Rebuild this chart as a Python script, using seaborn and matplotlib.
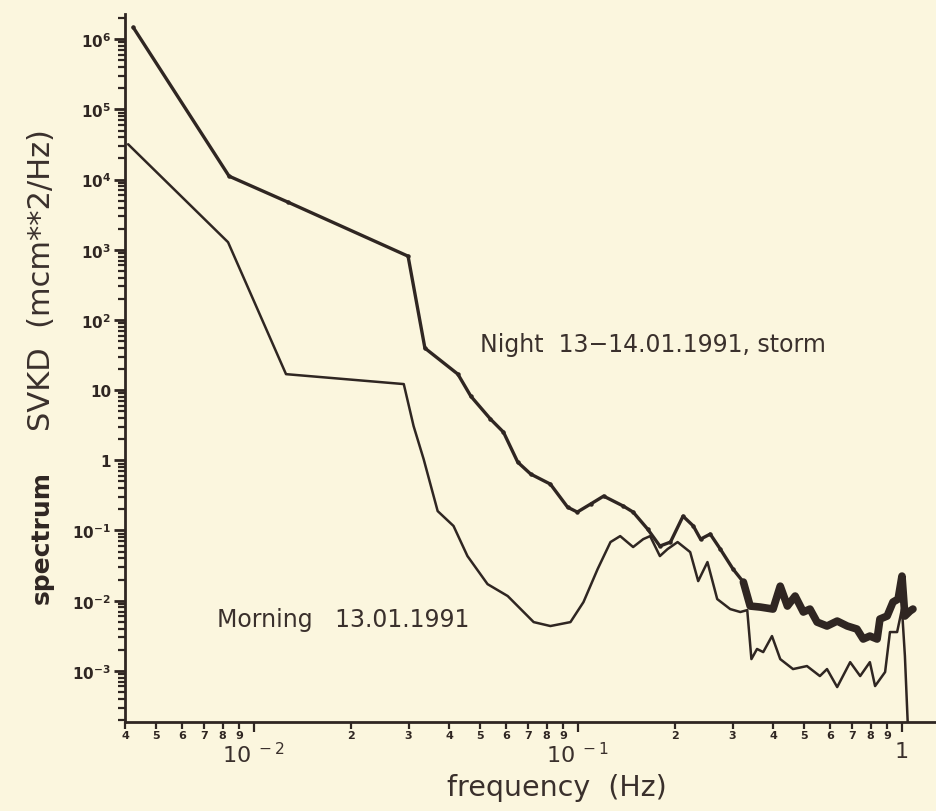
import numpy as np
import pandas as pd
import matplotlib
matplotlib.use("Agg")
import matplotlib.pyplot as plt
import seaborn as sns
from matplotlib.ticker import FixedLocator, FuncFormatter, NullFormatter

# Wave spectra, night storm record (Hz, mcm**2/Hz)
night_freq = [0.00424, 0.00838, 0.01274, 0.0299, 0.0337, 0.0426, 0.0467, 0.0537,
              0.0589, 0.0652, 0.0715, 0.0822, 0.0929, 0.0995, 0.1094, 0.120,
              0.138, 0.148, 0.164, 0.179, 0.193, 0.211, 0.227, 0.239, 0.256,
              0.275, 0.301, 0.324, 0.340, 0.365, 0.400, 0.421, 0.443, 0.468,
              0.496, 0.520, 0.547, 0.587, 0.631, 0.678, 0.726, 0.759, 0.796,
              0.838, 0.855, 0.900, 0.938, 0.973, 1.000, 1.021, 1.059, 1.081]
night_svkd = [1.48e6, 1.12e4, 4.77e3, 811, 39.7, 16.9, 8.2, 3.87,
              2.52, 0.94, 0.636, 0.458, 0.215, 0.183, 0.238, 0.309,
              0.223, 0.183, 0.105, 0.060, 0.0684, 0.160, 0.116, 0.0753, 0.0889,
              0.0543, 0.0282, 0.0184, 0.00838, 0.00811, 0.00759, 0.0161, 0.00838, 0.01164,
              0.00689, 0.00759, 0.00495, 0.00435, 0.00512, 0.00435, 0.00394, 0.00284, 0.00313,
              0.00284, 0.00547, 0.00604, 0.00955, 0.01054, 0.0224, 0.00604, 0.00711, 0.00759]

# Morning record
morning_freq = [0.00409, 0.00832, 0.01256, 0.0290, 0.0311, 0.0334, 0.0369, 0.0413,
                0.0456, 0.0526, 0.0607, 0.0730, 0.0822, 0.0948, 0.104, 0.115,
                0.126, 0.135, 0.148, 0.159, 0.167, 0.179, 0.189, 0.203, 0.222,
                0.235, 0.251, 0.269, 0.295, 0.317, 0.333, 0.343, 0.357, 0.373,
                0.397, 0.421, 0.461, 0.509, 0.558, 0.587, 0.631, 0.692, 0.743,
                0.796, 0.826, 0.887, 0.918, 0.966, 1.000, 1.021, 1.042]
morning_svkd = [3.19e4, 1282, 16.9, 12.2, 3.07, 1.04, 0.189, 0.116,
                0.0432, 0.0172, 0.01164, 0.00495, 0.00435, 0.00495, 0.00955, 0.0282,
                0.0684, 0.0832, 0.0581, 0.0753, 0.0832, 0.0432, 0.0543, 0.0684, 0.0492,
                0.0190, 0.0355, 0.01054, 0.00759, 0.00689, 0.00734, 0.00147, 0.00205, 0.00185,
                0.00313, 0.00147, 0.00106, 0.00117, 0.000843, 0.00106, 0.000587, 0.00133, 0.000843,
                0.00133, 0.000607, 0.000962, 0.00357, 0.00357, 0.00759, 0.00163, 0.000175]

night_label = "Night  13\u221214.01.1991, storm"
morning_label = "Morning   13.01.1991"
y_tick_values = [1e-3, 1e-2, 1e-1, 1, 10, 1e2, 1e3, 1e4, 1e5, 1e6]
y_tick_labels = [r"10$^{-3}$", r"10$^{-2}$", r"10$^{-1}$", "1", "10",
                 r"10$^{2}$", r"10$^{3}$", r"10$^{4}$", r"10$^{5}$", r"10$^{6}$"]
x_tick_values = [1e-2, 1e-1, 1]
x_tick_labels = [r"10$^{\ -2}$", r"10$^{\ -1}$", "1"]

paper = "#fbf6de"
ink = "#2f2622"
text_ink = "#3a302c"

sns.set_theme(style="ticks")
plt.rcParams["font.family"] = ["DejaVu Sans"]
plt.rcParams["mathtext.default"] = "regular"

W, H = 936, 812
fig = plt.figure(figsize=(W / 100, H / 100), dpi=100, facecolor=paper)
ax = fig.add_axes([125 / W, 89 / H, (W - 125) / W, (723 - 15) / H])
ax.set_facecolor(paper)
ax.set_xscale("log")
ax.set_yscale("log")

night = pd.DataFrame({"f": night_freq, "s": night_svkd})
morning = pd.DataFrame({"f": morning_freq, "s": morning_svkd})

sns.lineplot(data=morning, x="f", y="s", ax=ax, color=ink, lw=1.8,
             estimator=None, sort=False)
sns.lineplot(data=night, x="f", y="s", ax=ax, color=ink, lw=2.4,
             estimator=None, sort=False, marker="o", markersize=3.2,
             markeredgewidth=0)
# the storm record is much noisier above 0.3 Hz and prints as a heavy trace
noisy = night[night["f"] >= 0.32]
sns.lineplot(data=noisy, x="f", y="s", ax=ax, color=ink, lw=5.5,
             estimator=None, sort=False, solid_joinstyle="round")

ax.set_xlim(4.0e-3, 10 ** 0.105)
ax.set_ylim(10 ** -3.729, 10 ** 6.36)

for side in ("top", "right"):
    ax.spines[side].set_visible(False)
for side in ("left", "bottom"):
    ax.spines[side].set_linewidth(2.0)
    ax.spines[side].set_color(ink)

# y axis: decades plus 2..9 minor ticks
ax.yaxis.set_major_locator(FixedLocator(y_tick_values))
ax.set_yticklabels(y_tick_labels)
minor_y = [m * 10.0 ** e for e in range(-4, 7) for m in range(2, 10)]
ax.yaxis.set_minor_locator(FixedLocator(minor_y))
ax.yaxis.set_minor_formatter(NullFormatter())
ax.tick_params(axis="y", which="major", direction="out", length=8, width=2,
               color=ink, labelcolor=ink, labelsize=11, pad=2)
ax.tick_params(axis="y", which="minor", direction="out", length=5, width=1.6,
               color=ink)
for t in ax.get_yticklabels():
    t.set_fontweight("bold")

# x axis: digit labels on the 2..9 minor ticks, decade labels below them
ax.xaxis.set_major_locator(FixedLocator(x_tick_values))
ax.set_xticklabels(x_tick_labels)
minor_x = [m * 10.0 ** e for e in range(-3, 1) for m in range(2, 10)]
ax.xaxis.set_minor_locator(FixedLocator(minor_x))
ax.xaxis.set_minor_formatter(
    FuncFormatter(lambda v, p: str(int(round(v / 10 ** np.floor(np.log10(v) + 1e-9))))))
ax.tick_params(axis="x", which="major", direction="out", length=7, width=1.6,
               color=ink, labelcolor=text_ink, labelsize=16, pad=7)
ax.tick_params(axis="x", which="minor", direction="out", length=5, width=1.6,
               color=ink, labelcolor=ink, labelsize=8, pad=1)
for t in ax.get_xticklabels(minor=True):
    t.set_fontweight("bold")

ax.set_xlabel("")
ax.set_ylabel("")

fig.text(557 / W, 1 - 796 / H, "frequency  (Hz)", ha="center", va="baseline",
         fontsize=20.5, color=text_ink)
fig.text(42 / W, 1 - 537 / H, "spectrum", rotation=90, ha="center", va="center",
         fontsize=18, fontweight="bold", color=ink)
fig.text(42 / W, 1 - 280 / H, "SVKD  (mcm**2/Hz)", rotation=90, ha="center",
         va="center", fontsize=22, color=text_ink)

fig.text(480 / W, 1 - 352 / H, night_label, ha="left", va="baseline",
         fontsize=17, color=text_ink)
fig.text(217 / W, 1 - 627 / H, morning_label, ha="left", va="baseline",
         fontsize=17, color=text_ink)

fig.savefig("out.png", dpi=100, facecolor=paper)
